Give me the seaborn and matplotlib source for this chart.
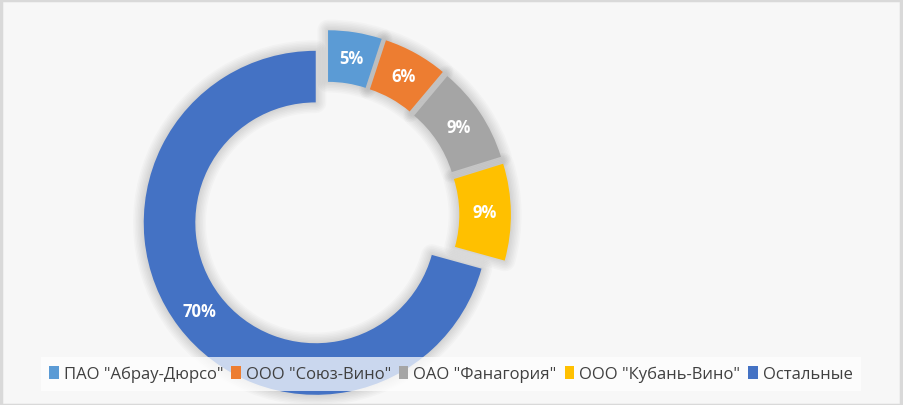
import numpy as np
import matplotlib
matplotlib.use("Agg")
import matplotlib.pyplot as plt
from matplotlib.patches import Rectangle, Patch, Wedge
import seaborn as sns

# ---- data ----
categories = ['ПАО "Абрау-Дюрсо"', 'ООО "Союз-Вино"', 'ОАО "Фанагория"',
              'ООО "Кубань-Вино"', 'Остальные']
shares = [5, 6, 9, 9, 70]
share_labels = ['5%', '6%', '9%', '9%', '70%']
colors = ['#5B9BD5', '#ED7D31', '#A5A5A5', '#FFC000', '#4472C4']

sns.set_theme(style="white")
plt.rcParams['font.family'] = ['Open Sans', 'DejaVu Sans']

W, H = 904, 406
fig = plt.figure(figsize=(W / 100, H / 100), dpi=100)
fig.patch.set_facecolor('#F7F7F7')

# axes: pie centre at (326, 216) px from top-left, radius 1 -> 172 px
cx, cy, R = 326, 216, 172
half = 210
ax = fig.add_axes([(cx - half) / W, (H - cy - half) / H, 2 * half / W, 2 * half / H])

wedges, _ = ax.pie(shares, colors=colors, startangle=90, counterclock=False,
                   explode=[0.075] * len(shares),
                   wedgeprops=dict(width=0.3, edgecolor='none', linewidth=0, zorder=3))
ax.set_xlim(-half / R, half / R)
ax.set_ylim(-half / R, half / R)
ax.set_aspect('equal')
ax.axis('off')

# soft shadow around each segment
for w in wedges:
    for k in range(1, 8):
        sh = Wedge(w.center, w.r, w.theta1, w.theta2, width=w.width,
                   facecolor='none', edgecolor='#000000', alpha=0.018,
                   linewidth=2.2 * k, zorder=1, joinstyle='round')
        ax.add_patch(sh)

for w, lab in zip(wedges, share_labels):
    ang = np.deg2rad((w.theta1 + w.theta2) / 2)
    x0, y0 = w.center
    r = 0.85
    ax.text(x0 + r * np.cos(ang), y0 + r * np.sin(ang), lab, ha='center', va='center',
            color='white', fontsize=12, fontweight='bold', zorder=5)

# chart border
fig.patches.append(Rectangle((0.5 / W, 0), 1 - 3 / W, 1 - 1 / H, transform=fig.transFigure,
                             fill=False, edgecolor='#D9D9D9', linewidth=2.5))

handles = [Patch(facecolor=c, edgecolor='none') for c in colors]
leg = fig.legend(handles, categories, loc='center', bbox_to_anchor=(451 / W, 1 - 375 / H),
                 ncol=5, frameon=True, fancybox=False, fontsize=12,
                 handlelength=0.55, handleheight=0.8, handletextpad=0.3,
                 columnspacing=0.5, borderpad=0.5, labelcolor='#404040')
leg.get_frame().set_facecolor('white')
leg.get_frame().set_alpha(0.72)
leg.get_frame().set_edgecolor('none')

fig.savefig('out.png', dpi=100, facecolor=fig.get_facecolor())
